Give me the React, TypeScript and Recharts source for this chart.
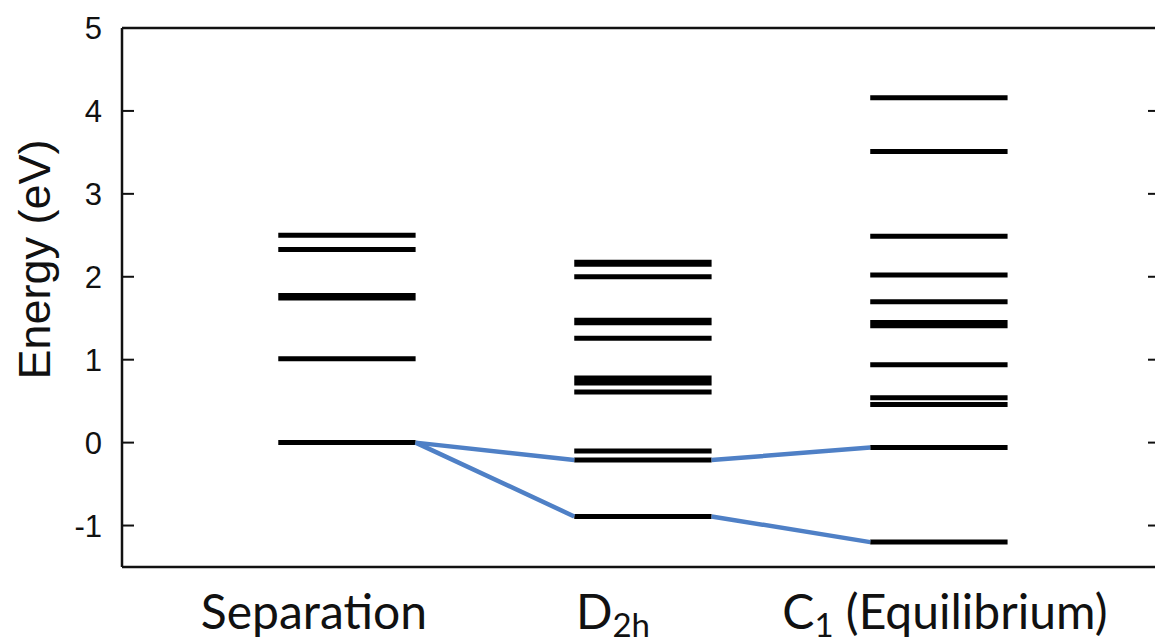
import React from "react";
import { ComposedChart, Line, XAxis, YAxis, ReferenceLine } from "recharts";

// energy levels (eV)
const columns = ["Separation", "D2h", "C1 (Equilibrium)"];
const separationLevels = [0, 1.01, 1.745, 1.775, 2.33, 2.5];
const d2hLevels = [-0.89, -0.21, -0.1, 0.61, 0.72, 0.75, 0.78, 1.26, 1.445, 1.475, 2.0, 2.15, 2.175];
const c1Levels = [-1.2, -0.06, 0.46, 0.54, 0.94, 1.41, 1.45, 1.7, 2.02, 2.49, 3.51, 4.16];

// correlation lines (blue): level followed from column to column
const upperPath = [0, -0.21, -0.06];
const lowerPath = [0, -0.89, -1.2];

const yTicks = [-1, 0, 1, 2, 3, 4, 5];

const HALF = 0.232; // half width of a level bar, in column units
const labelShift = [-33, -30, 6];
const FRAME = "#111";

const levelData = (center: number, levels: number[]) =>
  levels.flatMap((v) => [
    { x: center - HALF, y: v },
    { x: center + HALF, y: v },
    { x: center, y: null },
  ]);

const pathData = (values: number[]) =>
  values.slice(1).flatMap((v, i) => [
    { x: i + 1 + HALF, y: values[i] },
    { x: i + 2 - HALF, y: v },
    { x: i + 1.5, y: null },
  ]);

const LeftTick = (props: any) => {
  const { x, y, payload } = props;
  return (
    <g>
      <line x1={x} x2={x + 12} y1={y} y2={y} stroke={FRAME} strokeWidth={2} />
      <text
        x={x - 20}
        y={y}
        dy="0.36em"
        textAnchor="end"
        fontFamily="Liberation Sans"
        fontSize={31}
        fill="#111"
      >
        {payload.value}
      </text>
    </g>
  );
};

const RightTick = (props: any) => {
  const { x, y } = props;
  return <line x1={x - 12} x2={x} y1={y} y2={y} stroke={FRAME} strokeWidth={2} />;
};

const BottomTick = (props: any) => {
  const { x, y, index } = props;
  const common = {
    x: x + labelShift[index],
    y: y + 62,
    textAnchor: "middle" as const,
    fontFamily: "Lato",
    fontSize: 48,
    fill: "#111",
  };
  if (index === 1) {
    return (
      <text {...common}>
        <tspan>D</tspan>
        <tspan fontSize={33} dy={8}>2h</tspan>
      </text>
    );
  }
  if (index === 2) {
    return (
      <text {...common}>
        <tspan>C</tspan>
        <tspan fontSize={33} dy={8}>1</tspan>
        <tspan dy={-8}> (Equilibrium)</tspan>
      </text>
    );
  }
  return <text {...common}>{columns[index]}</text>;
};

const YLabel = (props: any) => {
  const { viewBox } = props;
  const cx = 50;
  const cy = viewBox.y + viewBox.height / 2 - 38;
  return (
    <text
      x={cx}
      y={cy}
      transform={`rotate(-90, ${cx}, ${cy})`}
      textAnchor="middle"
      fontFamily="Liberation Sans"
      fontSize={45}
      fill="#111"
    >
      Energy (eV)
    </text>
  );
};

export default function App() {
  const levelSets = [separationLevels, d2hLevels, c1Levels];
  return (
    <div
      style={{
        position: "absolute",
        left: 0,
        top: 0,
        width: 1155,
        height: 644,
        overflow: "hidden",
        background: "#fff",
      }}
    >
      <ComposedChart
        width={1165}
        height={644}
        margin={{ top: 28, right: 0, bottom: 0, left: 0 }}
      >
        <XAxis
          dataKey="x"
          type="number"
          domain={[0.24, 3.747]}
          allowDataOverflow
          ticks={[1, 2, 3]}
          tick={<BottomTick />}
          tickLine={false}
          tickSize={0}
          tickMargin={0}
          height={77}
          axisLine={{ stroke: FRAME, strokeWidth: 2.5 }}
        />
        <XAxis
          xAxisId="top"
          orientation="top"
          dataKey="x"
          type="number"
          domain={[0.24, 3.747]}
          allowDataOverflow
          height={0}
          tick={false}
          tickLine={false}
          axisLine={false}
        />
        <YAxis
          type="number"
          domain={[-1.5, 5]}
          allowDataOverflow
          ticks={yTicks}
          width={122}
          tick={<LeftTick />}
          tickLine={false}
          tickSize={0}
          tickMargin={0}
          axisLine={{ stroke: FRAME, strokeWidth: 2.5 }}
          label={<YLabel />}
        />
        <YAxis
          yAxisId="right"
          orientation="right"
          type="number"
          domain={[-1.5, 5]}
          allowDataOverflow
          ticks={yTicks}
          width={5}
          tick={<RightTick />}
          tickLine={false}
          tickSize={0}
          tickMargin={0}
          axisLine={{ stroke: FRAME, strokeWidth: 2.5 }}
        />
        <ReferenceLine y={5} stroke={FRAME} strokeWidth={2.5} ifOverflow="visible" />
        {levelSets.map((levels, i) => (
          <Line
            key={columns[i]}
            data={levelData(i + 1, levels)}
            dataKey="y"
            type="linear"
            stroke="#000"
            strokeWidth={5}
            strokeLinecap="butt"
            dot={false}
            activeDot={false}
            isAnimationActive={false}
          />
        ))}
        {[upperPath, lowerPath].map((p, i) => (
          <Line
            key={"path" + i}
            xAxisId="top"
            yAxisId="right"
            data={pathData(p)}
            dataKey="y"
            type="linear"
            stroke="#4f80c6"
            strokeWidth={4.5}
            dot={false}
            activeDot={false}
            isAnimationActive={false}
          />
        ))}
      </ComposedChart>
    </div>
  );
}
